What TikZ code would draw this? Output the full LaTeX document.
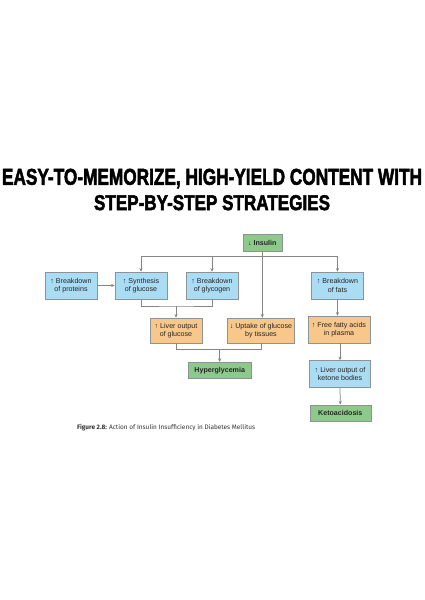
\documentclass[tikz,border=0pt]{standalone}
\usepackage{fontspec}
\usepackage{graphicx}
\setmainfont{Liberation Sans}
\newfontfamily\titlefont[FakeBold=2.5]{Liberation Sans Bold}
\newfontfamily\capfont{Fira Sans}
\usetikzlibrary{arrows.meta}
\definecolor{bluefill}{HTML}{AADCF3}
\definecolor{orangefill}{HTML}{F8C88B}
\definecolor{greenfill}{HTML}{8DC98B}
\definecolor{bordergray}{HTML}{8C9298}
\definecolor{linegray}{HTML}{858585}
\begin{document}
\begin{tikzpicture}[x=1pt,y=-1pt,
  box/.style={draw=bordergray, line width=0.6pt, align=center, inner sep=0pt,
    font=\fontsize{7.1}{8.6}\selectfont, text=black!85},
  bluebox/.style={box, fill=bluefill},
  orangebox/.style={box, fill=orangefill},
  greenbox/.style={box, fill=greenfill, font=\bfseries\fontsize{7.1}{8.6}\selectfont},
  conn/.style={draw=linegray, line width=0.75pt},
  arr/.style={conn, -{Stealth[length=3.6pt,width=3.2pt]}}
]
\useasboundingbox (0,0) rectangle (424,600);
\fill[white] (0,0) rectangle (424,600);

% Title
\node[anchor=south, inner sep=0pt] (t1) at (212,188.5)
  {\resizebox{420pt}{16pt}{\titlefont EASY-TO-MEMORIZE, HIGH-YIELD CONTENT WITH}};
\node[anchor=south, inner sep=0pt] (t2) at (212,210.5)
  {\resizebox{236pt}{15pt}{\titlefont STEP-BY-STEP STRATEGIES}};

% Nodes
\node[greenbox, minimum width=39pt, minimum height=17.5pt] (ins) at (262.3,243) {↓ Insulin};
\node[bluebox, minimum width=52pt, minimum height=27pt] (prot) at (71,285.5) {↑ Breakdown\\of proteins};
\node[bluebox, minimum width=52pt, minimum height=27pt] (syn) at (141,285.5) {↑ Synthesis\\of glucose};
\node[bluebox, minimum width=52pt, minimum height=27pt] (glyc) at (212,285.5) {↑ Breakdown\\of glycogen};
\node[bluebox, minimum width=52pt, minimum height=27pt] (fats) at (337.5,285.5) {↑ Breakdown\\of fats};
\node[orangebox, minimum width=52pt, minimum height=25pt] (liver) at (176,330.5) {↑ Liver output\\of glucose};
\node[orangebox, minimum width=67pt, minimum height=25pt] (upt) at (261,330.5) {↓ Uptake of glucose\\by tissues};
\node[orangebox, minimum width=62pt, minimum height=27pt] (ffa) at (339,329.5) {↑ Free fatty acids\\in plasma};
\node[bluebox, minimum width=61pt, minimum height=27pt] (ket) at (340,374) {↑ Liver output of\\ketone bodies};
\node[greenbox, minimum width=63pt, minimum height=16pt] (hyp) at (219.7,370.3) {Hyperglycemia};
\node[greenbox, minimum width=61pt, minimum height=16pt] (keto) at (340.3,412.8) {Ketoacidosis};

% Connectors
\coordinate (bus) at (262.3,256.7);
\draw[conn] (ins.south) -- (bus);
\draw[conn] (syn.north |- bus) -- (fats.north |- bus);
\draw[arr] (syn.north |- bus) -- (syn.north);
\draw[arr] (glyc.north |- bus) -- (glyc.north);
\draw[arr] (fats.north |- bus) -- (fats.north);
\draw[arr] (ins.south) -- (upt.north -| ins.south);
\draw[arr] (prot.east) -- (syn.west);

\coordinate (j1) at (176,306);
\draw[conn] (syn.south) |- (j1) -| (glyc.south);
\draw[arr] (j1) -- (liver.north);

\coordinate (j2) at (219.7,349.5);
\draw[conn] (liver.south) |- (j2) -| (upt.south);
\draw[arr] (j2) -- (hyp.north);

\draw[arr] (fats.south) -- (fats.south |- ffa.north);
\draw[arr] (ffa.south -| ket.north) -- (ket.north);
\draw[arr] (ket.south) -- (keto.north);

% Caption
\node[anchor=west, inner sep=0pt, text=black!80] (cap) at (77,428)
  {\resizebox{178pt}{!}{\capfont\fontsize{5.5}{6}\selectfont\textbf{Figure 2.8:} Action of Insulin Insufficiency in Diabetes Mellitus}};
\end{tikzpicture}
\end{document}
